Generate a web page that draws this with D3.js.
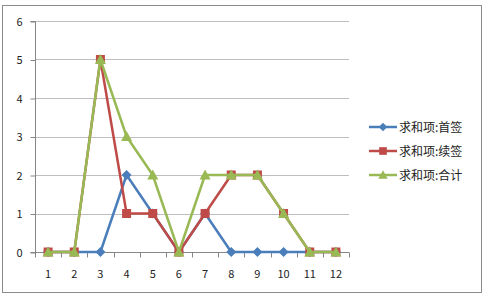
<!DOCTYPE html>
<html>
<head>
<meta charset="utf-8">
<script src="https://cdn.jsdelivr.net/npm/d3@7"></script>
<style>
  html, body { margin: 0; padding: 0; background: #fff; }
  svg text { font-family: "Noto Sans CJK SC", "Noto Sans", sans-serif; }
</style>
</head>
<body>
<svg id="chart" width="486" height="297"></svg>
<script>
// Data
const categories = ['1', '2', '3', '4', '5', '6', '7', '8', '9', '10', '11', '12'];
const firstSign = [0, 0, 0, 2, 1, 0, 1, 0, 0, 0, 0, 0];
const renewSign = [0, 0, 5, 1, 1, 0, 1, 2, 2, 1, 0, 0];
const totalSign = [0, 0, 5, 3, 2, 0, 2, 2, 2, 1, 0, 0];
const yTicks = [0, 1, 2, 3, 4, 5, 6];

const series = [
  { name: '求和项:首签', values: firstSign, color: '#4a7ebb', marker: 'diamond' },
  { name: '求和项:续签', values: renewSign, color: '#be4b48', marker: 'square' },
  { name: '求和项:合计', values: totalSign, color: '#98b954', marker: 'triangle' }
];

const svg = d3.select('#chart');

// outer border
svg.append('rect')
  .attr('x', 2.5).attr('y', 5.5)
  .attr('width', 479).attr('height', 287)
  .attr('fill', '#fff')
  .attr('stroke', '#8c8c8c')
  .attr('stroke-width', 1);

const plot = { left: 35, right: 349, top: 21, bottom: 252 };

const x = d3.scaleBand()
  .domain(categories)
  .range([plot.left, plot.right])
  .padding(0);

const y = d3.scaleLinear()
  .domain([0, 6])
  .range([plot.bottom, plot.top]);

// gridlines
svg.append('g')
  .selectAll('line')
  .data(yTicks.filter(d => d > 0))
  .join('line')
  .attr('x1', plot.left).attr('x2', plot.right)
  .attr('y1', d => Math.round(y(d)) + 0.5)
  .attr('y2', d => Math.round(y(d)) + 0.5)
  .attr('stroke', '#bebebe');

// y axis
const yAxis = svg.append('g')
  .attr('transform', `translate(${plot.left + 0.5},0.5)`)
  .call(d3.axisLeft(y).tickValues(yTicks).tickSize(5).tickPadding(8).tickFormat(d3.format('d')));
yAxis.select('.domain').attr('stroke', '#868686').attr('d', `M-5,${plot.bottom}H0V${plot.top}H-5`);
yAxis.selectAll('.tick line').attr('stroke', '#868686');
yAxis.selectAll('text').attr('font-size', 11).attr('fill', '#222');

// x axis
const xAxis = svg.append('g')
  .attr('transform', `translate(0,${Math.round(plot.bottom) + 0.5})`);
xAxis.append('line')
  .attr('x1', plot.left).attr('x2', plot.right)
  .attr('stroke', '#868686');
const bounds = categories.map(c => x(c)).concat([plot.right]);
xAxis.selectAll('.xt')
  .data(bounds)
  .join('line')
  .attr('class', 'xt')
  .attr('x1', d => Math.round(d) + 0.5).attr('x2', d => Math.round(d) + 0.5)
  .attr('y1', 0).attr('y2', 5)
  .attr('stroke', '#868686');
xAxis.selectAll('text')
  .data(categories)
  .join('text')
  .attr('x', d => x(d) + x.bandwidth() / 2)
  .attr('y', 25)
  .attr('text-anchor', 'middle')
  .attr('font-size', 11)
  .attr('fill', '#222')
  .text(d => d);

const cx = c => x(c) + x.bandwidth() / 2;

function drawMarker(g, type, px, py, color, k = 1) {
  if (type === 'diamond') {
    const r = 5 * k;
    g.append('path')
      .attr('d', `M${px},${py - r}L${px + r},${py}L${px},${py + r}L${px - r},${py}Z`)
      .attr('fill', color);
  } else if (type === 'square') {
    const h = 4.5 * k;
    g.append('rect')
      .attr('x', px - h).attr('y', py - h)
      .attr('width', 2 * h).attr('height', 2 * h)
      .attr('fill', color);
  } else {
    const t = 5.5 * k;
    g.append('path')
      .attr('d', `M${px},${py - t}L${px + t},${py + t * 0.82}L${px - t},${py + t * 0.82}Z`)
      .attr('fill', color);
  }
}

const line = d3.line()
  .x((d, i) => cx(categories[i]))
  .y(d => y(d));

series.forEach(s => {
  const g = svg.append('g');
  g.append('path')
    .datum(s.values)
    .attr('d', line)
    .attr('fill', 'none')
    .attr('stroke', s.color)
    .attr('stroke-width', 2.5)
    .attr('stroke-linejoin', 'round');
  s.values.forEach((v, i) => drawMarker(g, s.marker, cx(categories[i]), y(v), s.color));
});

// legend
const legend = svg.append('g');
series.forEach((s, i) => {
  const ly = 127 + i * 24;
  const lg = legend.append('g');
  lg.append('line')
    .attr('x1', 369).attr('x2', 397)
    .attr('y1', ly).attr('y2', ly)
    .attr('stroke', s.color).attr('stroke-width', 2.5);
  drawMarker(lg, s.marker, 383, ly, s.color, 0.85);
  lg.append('text')
    .attr('x', 399).attr('y', ly + 4.5)
    .attr('font-size', 12)
    .attr('fill', '#222')
    .text(s.name);
});
</script>
</body>
</html>
